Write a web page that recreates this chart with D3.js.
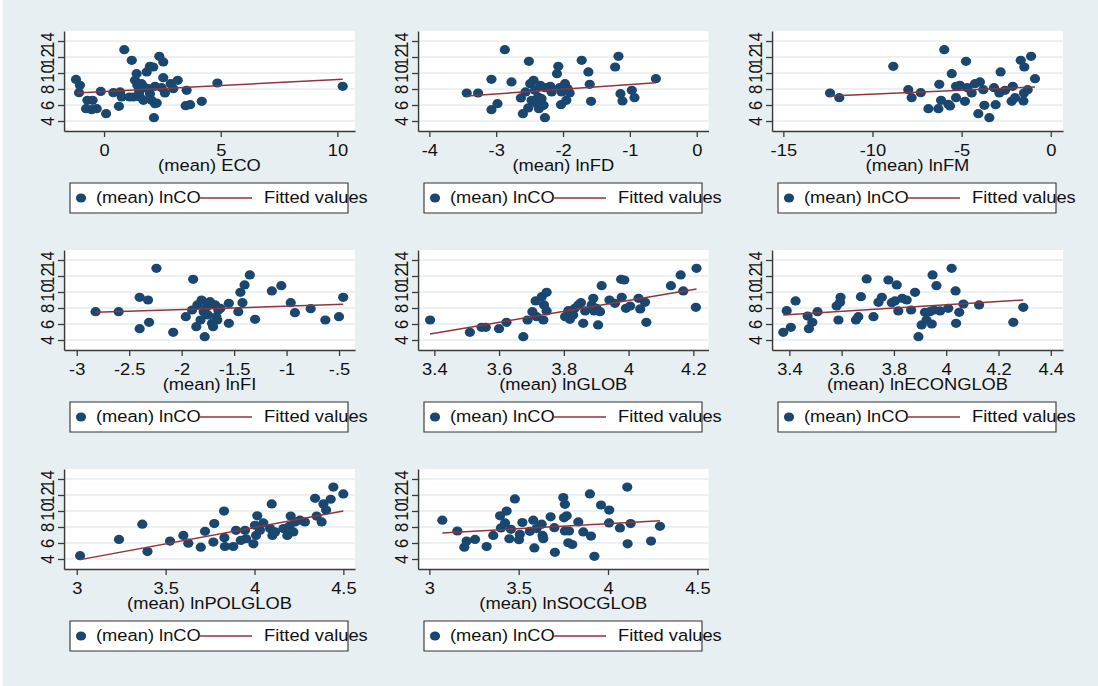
<!DOCTYPE html>
<html><head><meta charset="utf-8">
<script src="https://cdn.jsdelivr.net/npm/d3@7"></script>
<style>html,body{margin:0;padding:0;background:#e8eff2;} svg{display:block}</style>
</head><body><svg id="c" width="1098" height="686"></svg>
<script>
// ---- data ----
const yTicks = [4, 6, 8, 10, 12, 14];
const yTickLabels = ["4", "6", "8", "10", "12", "14"];
const seriesLabel = "(mean) lnCO";
const fitLabel = "Fitted values";

const ecoPts = [[-1.2,9.2],[-1.03,8.46],[-1.07,7.54],[-0.71,6.58],[-0.77,5.54],[-0.49,6.58],[-0.53,5.42],[-0.31,5.54],[-0.14,7.7],[0.09,4.92],[0.4,7.54],[0.64,5.83],[0.69,7.63],[0.76,7.0],[0.87,12.92],[1.09,7.0],[1.19,11.58],[1.33,9.08],[1.4,9.92],[1.43,8.46],[1.51,7.63],[1.54,7.0],[1.61,8.67],[1.69,6.58],[1.83,10.13],[1.9,8.04],[1.97,7.42],[1.97,10.83],[2.04,6.58],[2.11,10.75],[2.14,4.42],[2.19,6.17],[2.19,8.33],[2.26,6.25],[2.37,12.08],[2.47,8.17],[2.54,11.38],[2.54,9.42],[2.61,7.5],[2.86,8.67],[2.97,8.04],[3.16,9.08],[3.54,7.83],[3.5,5.92],[3.69,6.04],[4.19,6.46],[4.86,8.75],[10.23,8.33],[1.26,7.0],[1.76,8.17]];
const ecoTicks = [0, 5, 10];
const ecoTickLabels = ["0", "5", "10"];
const ecoFit = [7.5, 9.21];

const fdPts = [[-3.44,7.5],[-3.27,7.5],[-3.07,9.21],[-3.07,5.42],[-2.98,6.17],[-2.87,12.92],[-2.77,8.88],[-2.63,6.88],[-2.6,4.92],[-2.56,7.63],[-2.52,5.63],[-2.51,11.46],[-2.49,8.67],[-2.47,6.58],[-2.44,9.08],[-2.42,7.83],[-2.39,6.17],[-2.37,7.0],[-2.34,8.46],[-2.36,5.54],[-2.32,6.79],[-2.29,5.96],[-2.27,4.42],[-2.27,8.17],[-2.19,8.33],[-2.17,7.63],[-2.09,9.92],[-2.07,10.83],[-2.05,8.17],[-2.03,6.04],[-2.02,7.63],[-1.97,8.67],[-1.95,6.58],[-1.93,8.04],[-1.9,7.5],[-1.72,11.58],[-1.62,10.13],[-1.6,8.58],[-1.58,6.46],[-1.22,10.75],[-1.17,12.08],[-1.14,7.42],[-1.11,6.5],[-0.97,7.83],[-0.93,6.92],[-0.61,9.29]];
const fdTicks = [-4, -3, -2, -1, 0];
const fdTickLabels = ["-4", "-3", "-2", "-1", "0"];
const fdFit = [7.125, 8.79];

const fmPts = [[-12.38,7.5],[-11.86,6.92],[-8.83,10.83],[-7.99,7.92],[-7.8,6.92],[-7.29,7.54],[-6.86,5.54],[-6.3,5.54],[-6.25,8.58],[-6.15,6.58],[-5.97,12.92],[-5.74,6.08],[-5.65,5.88],[-5.55,9.92],[-5.31,6.92],[-5.31,8.33],[-5.09,8.46],[-4.81,6.46],[-4.75,11.46],[-4.68,8.17],[-4.43,7.5],[-4.25,8.67],[-4.06,4.92],[-3.97,8.88],[-3.78,7.92],[-3.72,5.96],[-3.44,4.42],[-3.18,8.17],[-3.09,6.04],[-2.88,7.5],[-2.81,10.13],[-2.56,7.83],[-2.19,6.46],[-2.13,8.33],[-2.0,6.92],[-1.68,11.58],[-1.53,6.5],[-1.5,7.5],[-1.48,10.75],[-1.29,7.92],[-1.1,12.08],[-0.88,9.29]];
const fmTicks = [-15, -10, -5, 0];
const fmTickLabels = ["-15", "-10", "-5", "0"];
const fmFit = [7.125, 8.25];

const fiPts = [[-2.82,7.54],[-2.6,7.54],[-2.4,9.33],[-2.4,5.42],[-2.32,9.0],[-2.31,6.21],[-2.24,12.96],[-2.08,4.96],[-1.96,6.92],[-1.9,7.75],[-1.89,11.58],[-1.86,5.67],[-1.85,8.38],[-1.82,6.5],[-1.81,9.0],[-1.79,7.54],[-1.78,4.42],[-1.76,8.17],[-1.75,7.13],[-1.73,8.79],[-1.71,6.08],[-1.7,5.67],[-1.68,8.38],[-1.67,6.92],[-1.66,6.5],[-1.65,7.75],[-1.63,7.96],[-1.55,8.58],[-1.55,6.08],[-1.46,7.54],[-1.44,9.96],[-1.42,8.67],[-1.4,10.88],[-1.35,12.13],[-1.3,6.58],[-1.14,10.13],[-1.05,10.79],[-0.96,8.67],[-0.92,7.42],[-0.77,7.92],[-0.63,6.5],[-0.5,6.92],[-0.46,9.33]];
const fiTicks = [-3, -2.5, -2, -1.5, -1, -0.5];
const fiTickLabels = ["-3", "-2.5", "-2", "-1.5", "-1", "-.5"];
const fiFit = [7.46, 8.46];

const globPts = [[3.387,6.5],[3.51,4.96],[3.546,5.58],[3.559,5.58],[3.6,5.42],[3.623,6.21],[3.675,4.42],[3.688,6.5],[3.703,7.54],[3.713,8.88],[3.716,6.92],[3.732,9.42],[3.737,6.5],[3.739,8.38],[3.747,9.96],[3.747,7.63],[3.804,6.92],[3.814,7.67],[3.819,6.58],[3.829,7.13],[3.834,7.96],[3.845,8.38],[3.853,8.67],[3.86,6.08],[3.866,7.63],[3.886,8.38],[3.891,9.21],[3.894,7.63],[3.901,7.96],[3.906,5.88],[3.912,7.54],[3.917,10.79],[3.941,9.0],[3.958,8.58],[3.977,11.58],[3.979,9.33],[3.987,11.5],[3.992,7.96],[4.005,8.25],[4.031,9.21],[4.036,7.88],[4.051,8.71],[4.055,6.21],[4.131,10.79],[4.161,12.13],[4.169,10.13],[4.208,8.08],[4.21,12.96]];
const globTicks = [3.4, 3.6, 3.8, 4, 4.2];
const globTickLabels = ["3.4", "3.6", "3.8", "4", "4.2"];
const globFit = [4.75, 10.375];

const econPts = [[3.377,4.96],[3.39,7.67],[3.406,5.58],[3.424,8.88],[3.47,7.0],[3.475,5.42],[3.488,6.21],[3.508,7.54],[3.581,8.25],[3.588,6.5],[3.594,8.71],[3.596,9.33],[3.655,6.5],[3.664,6.92],[3.674,9.42],[3.696,11.63],[3.722,6.92],[3.741,8.71],[3.754,9.33],[3.779,11.5],[3.792,8.67],[3.804,8.88],[3.811,10.88],[3.817,7.63],[3.832,9.21],[3.849,9.0],[3.866,7.75],[3.881,9.96],[3.894,4.42],[3.906,5.88],[3.919,7.46],[3.925,6.5],[3.938,7.54],[3.945,6.0],[3.948,12.13],[3.953,7.75],[3.963,10.79],[3.977,7.63],[4.008,7.96],[4.021,12.96],[4.036,10.13],[4.038,6.08],[4.05,7.46],[4.066,8.5],[4.126,8.38],[4.257,6.21],[4.295,8.08]];
const econTicks = [3.4, 3.6, 3.8, 4, 4.2, 4.4];
const econTickLabels = ["3.4", "3.6", "3.8", "4", "4.2", "4.4"];
const econFit = [7.13, 9.0];

const polPts = [[3.019,4.42],[3.238,6.45],[3.369,8.35],[3.398,4.93],[3.525,6.24],[3.6,6.95],[3.628,5.98],[3.698,5.48],[3.722,7.46],[3.769,6.11],[3.774,8.43],[3.829,9.99],[3.831,6.66],[3.834,5.56],[3.881,5.56],[3.896,7.59],[3.923,6.32],[3.947,7.59],[3.953,6.53],[3.994,5.9],[4.003,8.22],[4.009,6.95],[4.016,9.4],[4.031,7.59],[4.05,8.51],[4.088,7.8],[4.097,10.88],[4.101,6.95],[4.116,7.38],[4.163,7.8],[4.185,6.95],[4.196,8.09],[4.204,9.36],[4.219,7.38],[4.228,8.64],[4.256,8.85],[4.284,8.64],[4.341,11.59],[4.35,9.36],[4.378,8.64],[4.388,10.88],[4.403,10.12],[4.429,11.47],[4.444,12.99],[4.5,12.14]];
const polTicks = [3, 3.5, 4, 4.5];
const polTickLabels = ["3", "3.5", "4", "4.5"];
const polFit = [3.92, 9.99];

const socPts = [[3.073,8.85],[3.157,7.5],[3.196,5.48],[3.209,6.24],[3.256,6.45],[3.321,5.56],[3.358,6.95],[3.396,9.4],[3.401,7.88],[3.424,8.51],[3.433,9.99],[3.448,6.53],[3.457,7.71],[3.479,11.51],[3.502,6.41],[3.507,7.08],[3.521,8.56],[3.563,7.46],[3.582,8.85],[3.588,5.39],[3.601,7.8],[3.629,8.35],[3.634,6.95],[3.638,6.53],[3.679,9.27],[3.7,7.92],[3.703,4.84],[3.75,11.68],[3.754,9.15],[3.759,10.84],[3.759,7.5],[3.769,9.4],[3.778,6.03],[3.782,7.5],[3.8,5.81],[3.834,8.64],[3.862,7.38],[3.899,12.14],[3.905,6.87],[3.924,4.34],[3.961,10.75],[4.007,10.12],[4.006,8.51],[4.067,7.88],[4.108,12.99],[4.11,5.9],[4.127,8.43],[4.241,6.24],[4.291,8.09]];
const socTicks = [3, 3.5, 4, 4.5];
const socTickLabels = ["3", "3.5", "4", "4.5"];
const socFit = [7.25, 8.77];

// ---- panel configuration ----
const panels = [
  {title: "(mean) ECO",       pts: ecoPts,  ticks: ecoTicks,  labels: ecoTickLabels,  fit: ecoFit,  dom: [-1.714, 10.757], col: 0, row: 0},
  {title: "(mean) lnFD",      pts: fdPts,   ticks: fdTicks,   labels: fdTickLabels,   fit: fdFit,   dom: [-4.169, 0.177],  col: 1, row: 0},
  {title: "(mean) lnFM",      pts: fmPts,   ticks: fmTicks,   labels: fmTickLabels,   fit: fmFit,   dom: [-15.634, 0.69],  col: 2, row: 0},
  {title: "(mean) lnFI",      pts: fiPts,   ticks: fiTicks,   labels: fiTickLabels,   fit: fiFit,   dom: [-3.121, -0.3475], col: 0, row: 1},
  {title: "(mean) lnGLOB",    pts: globPts, ticks: globTicks, labels: globTickLabels, fit: globFit, dom: [3.3497, 4.247],  col: 1, row: 1},
  {title: "(mean) lnECONGLOB",pts: econPts, ticks: econTicks, labels: econTickLabels, fit: econFit, dom: [3.3338, 4.447],  col: 2, row: 1},
  {title: "(mean) lnPOLGLOB", pts: polPts,  ticks: polTicks,  labels: polTickLabels,  fit: polFit,  dom: [2.9285, 4.5658], col: 0, row: 2},
  {title: "(mean) lnSOCGLOB", pts: socPts,  ticks: socTicks,  labels: socTickLabels,  fit: socFit,  dom: [2.9368, 4.5627], col: 1, row: 2}
];

// ---- layout (real pixels) ----
const S = 1.11;                 // horizontal stretch of the whole graph
const colLeft = [64, 418, 772];
const colRight = [355, 708.5, 1063];
const rowTop = [31, 250, 469];
const plotH = 100;
const FONT = "'Liberation Sans', Arial, sans-serif";
const FS = 16.5;
const NAVY = "#1a476f", MAROON = "#90353b", AXIS = "#3a3a3a";

const svg = d3.select("#c");
svg.append("rect").attr("width", 1098).attr("height", 686).attr("fill", "#e8eff2");
svg.append("rect").attr("width", 2.5).attr("height", 686).attr("fill", "#ffffff");
const root = svg.append("g").attr("transform", `scale(${S},1)`);

panels.forEach(p => {
  const L = colLeft[p.col] / S, R = colRight[p.col] / S;
  const T = rowTop[p.row], B = T + plotH;
  const x = d3.scaleLinear().domain(p.dom).range([L, R]);
  const y = d3.scaleLinear().domain([2.75, 15.25]).range([B, T]);
  const g = root.append("g");

  g.append("rect").attr("x", L).attr("y", T).attr("width", R - L).attr("height", B - T).attr("fill", "#fff");
  g.selectAll("line.grid").data(yTicks).join("line").attr("class", "grid")
    .attr("x1", L).attr("x2", R).attr("y1", d => y(d)).attr("y2", d => y(d))
    .attr("stroke", "#e4ecef").attr("stroke-width", 1.6);

  // y axis
  const ya = g.append("g").attr("transform", `translate(${L},0)`)
    .call(d3.axisLeft(y).tickValues(yTicks).tickSize(6 / S).tickSizeOuter(0)
      .tickFormat((d, i) => yTickLabels[i]));
  ya.select(".domain").attr("stroke", AXIS).attr("stroke-width", 1.3);
  ya.selectAll(".tick line").attr("stroke", AXIS).attr("stroke-width", 1.3);
  ya.selectAll(".tick text")
    .attr("x", 0).attr("y", -10 / S).attr("dy", 0)
    .attr("text-anchor", "middle").attr("transform", "rotate(-90)")
    .attr("fill", "#111").attr("font-size", FS).attr("font-family", FONT);

  // x axis
  const xa = g.append("g").attr("transform", `translate(0,${B})`)
    .call(d3.axisBottom(x).tickValues(p.ticks).tickSize(6).tickSizeOuter(0).tickPadding(7.5)
      .tickFormat((d, i) => p.labels[i]));
  xa.select(".domain").attr("stroke", AXIS).attr("stroke-width", 1.3);
  xa.selectAll(".tick line").attr("stroke", AXIS).attr("stroke-width", 1.3 / S);
  xa.selectAll(".tick text").attr("fill", "#111").attr("font-size", FS).attr("font-family", FONT);

  g.append("text").attr("x", (L + R) / 2).attr("y", B + 40).attr("text-anchor", "middle")
    .attr("font-size", FS).attr("font-family", FONT).attr("fill", "#111").text(p.title);

  // markers
  g.selectAll("circle.pt").data(p.pts).join("circle").attr("class", "pt")
    .attr("cx", d => x(d[0])).attr("cy", d => y(d[1])).attr("r", 4.6).attr("fill", NAVY);

  // fitted line
  const xs = d3.extent(p.pts, d => d[0]);
  g.append("line").attr("x1", x(xs[0])).attr("x2", x(xs[1]))
    .attr("y1", y(p.fit[0])).attr("y2", y(p.fit[1]))
    .attr("stroke", MAROON).attr("stroke-width", 1.5);

  // legend
  const lx = (colLeft[p.col] + 6) / S, ly = B + 52;
  const lg = g.append("g");
  lg.append("rect").attr("x", lx).attr("y", ly).attr("width", 278 / S).attr("height", 30)
    .attr("fill", "#fff").attr("stroke", "#333").attr("stroke-width", 1);
  lg.append("circle").attr("cx", lx + 11 / S).attr("cy", ly + 15).attr("r", 4.6).attr("fill", NAVY);
  lg.append("text").attr("x", lx + 26 / S).attr("y", ly + 20.5)
    .attr("font-size", FS).attr("font-family", FONT).attr("fill", "#111").text(seriesLabel);
  lg.append("line").attr("x1", lx + 130 / S).attr("x2", lx + 182 / S).attr("y1", ly + 15).attr("y2", ly + 15)
    .attr("stroke", MAROON).attr("stroke-width", 1.5);
  lg.append("text").attr("x", lx + 194 / S).attr("y", ly + 20.5)
    .attr("font-size", FS).attr("font-family", FONT).attr("fill", "#111").text(fitLabel);
});
</script>
</body></html>
